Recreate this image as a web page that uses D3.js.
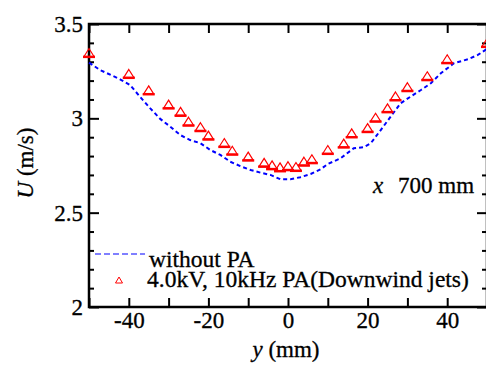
<!DOCTYPE html>
<html lang="en">
<head>
    <meta charset="UTF-8">
    <title>U profile</title>
    <script src="https://cdn.jsdelivr.net/npm/d3@7"></script>
    <style>
        body { margin: 0; background: #fff; }
        svg text { font-family: "Liberation Serif", "Times New Roman", Times, serif; fill: #000; stroke: #000; stroke-width: 0.3px; }
    </style>
</head>
<body>
    <svg width="486" height="365" id="mainsvg"></svg>
    <script>
        // without PA (dashed line)
        const baseY = [-50, -47.2, -42.2, -39.7, -37.2, -34.6, -32.1, -29.6, -27.1, -24.6, -22, -19.5, -17, -14.5, -12, -9.4, -6.9, -4.4, -1.9, 0.6, 3.1, 5.7, 8.2, 10, 13.2, 16.5, 19, 20.8, 23.3, 25.8, 28.3, 30.8, 33.4, 35.9, 38.4, 41.7, 45.2, 47.7, 50]
        const baseU = [3.295, 3.256, 3.207, 3.177, 3.115, 3.053, 2.997, 2.956, 2.912, 2.885, 2.868, 2.832, 2.806, 2.770, 2.747, 2.726, 2.712, 2.700, 2.677, 2.677, 2.688, 2.705, 2.730, 2.758, 2.788, 2.841, 2.847, 2.868, 2.938, 3.009, 3.080, 3.115, 3.150, 3.186, 3.239, 3.292, 3.313, 3.336, 3.368]

        // 4.0kV, 10kHz PA (triangles)
        const paY = [-50, -40, -35, -30, -27, -25, -22, -20, -16, -14, -10, -6, -4, -2, 0, 2, 4, 6, 10, 14, 16, 20, 22, 25, 27, 30, 35, 40, 50]
        const paU = [3.346, 3.235, 3.148, 3.073, 3.034, 2.982, 2.953, 2.908, 2.869, 2.828, 2.797, 2.764, 2.751, 2.740, 2.746, 2.742, 2.770, 2.783, 2.832, 2.866, 2.920, 2.948, 3.003, 3.053, 3.116, 3.165, 3.223, 3.313, 3.399]

        const xTicks = [-50, -40, -30, -20, -10, 0, 10, 20, 30, 40, 50]
        const xLabels = [-40, -20, 0, 20, 40]
        const yTicks = [2, 2.5, 3, 3.5]
        const yMinor = [2.1, 2.2, 2.3, 2.4, 2.6, 2.7, 2.8, 2.9, 3.1, 3.2, 3.3, 3.4]
        const legendNames = ['without PA', '4.0kV, 10kHz PA(Downwind jets)']

        const svg = d3.select('#mainsvg')
        const m = {left: 89, right: 487, top: 24, bottom: 307}
        const serif = '"Liberation Serif", "Times New Roman", Times, serif'

        const xScale = d3.scaleLinear().domain([-50, 50]).range([m.left, m.right])
        const yScale = d3.scaleLinear().domain([2, 3.5]).range([m.bottom, m.top])

        const fmtX = d => xLabels.includes(d) ? String(d) : ''

        // bottom axis with labels
        svg.append('g').attr('transform', `translate(0,${m.bottom})`)
            .call(d3.axisBottom(xScale).tickValues(xTicks).tickSizeInner(-9).tickSizeOuter(0).tickPadding(5).tickFormat(fmtX))
        // top axis
        svg.append('g').attr('transform', `translate(0,${m.top})`)
            .call(d3.axisTop(xScale).tickValues(xTicks).tickSizeInner(-9).tickSizeOuter(0).tickFormat(''))
        // left axis
        svg.append('g').attr('transform', `translate(${m.left},0)`)
            .call(d3.axisLeft(yScale).tickValues(yTicks).tickSizeInner(-10).tickSizeOuter(0).tickPadding(6).tickFormat(d3.format('')))
        svg.append('g').attr('transform', `translate(${m.left},0)`)
            .call(d3.axisLeft(yScale).tickValues(yMinor).tickSizeInner(-5).tickSizeOuter(0).tickFormat(''))
        // right axis
        svg.append('g').attr('transform', `translate(${m.right},0)`)
            .call(d3.axisRight(yScale).tickValues(yTicks).tickSizeInner(-10).tickSizeOuter(0).tickFormat(''))
        svg.append('g').attr('transform', `translate(${m.right},0)`)
            .call(d3.axisRight(yScale).tickValues(yMinor).tickSizeInner(-5).tickSizeOuter(0).tickFormat(''))

        svg.selectAll('g').attr('font-family', serif)
        svg.selectAll('.domain').remove()
        svg.selectAll('.tick line').attr('stroke', '#000').attr('stroke-width', 2)
        svg.selectAll('.tick text').attr('font-size', '23px').attr('font-family', serif)

        // frame
        svg.append('rect')
            .attr('x', m.left).attr('y', m.top)
            .attr('width', m.right - m.left).attr('height', m.bottom - m.top)
            .attr('fill', 'none').attr('stroke', '#000').attr('stroke-width', 2.5)

        // dashed line (without PA)
        const line = d3.line()
            .x((d, i) => xScale(baseY[i]))
            .y(d => yScale(d))
        svg.append('path')
            .datum(baseU)
            .attr('d', line)
            .attr('fill', 'none')
            .attr('stroke', '#0000ff')
            .attr('stroke-width', 2)
            .attr('stroke-dasharray', '4,3')

        // triangles (PA)
        const tri = svg.append('g')
        paU.forEach((u, i) => {
            const cx = xScale(paY[i]), cy = yScale(u)
            tri.append('path')
                .attr('d', `M${cx},${cy - 4.5}L${cx + 5},${cy + 3.5}L${cx - 5},${cy + 3.5}Z`)
                .attr('fill', 'none').attr('stroke', '#ff0000').attr('stroke-width', 1.2)
            tri.append('line')
                .attr('x1', cx - 6).attr('x2', cx + 6)
                .attr('y1', cy + 3.8).attr('y2', cy + 3.8)
                .attr('stroke', '#ff0000').attr('stroke-width', 2.5)
        })

        // legend
        svg.append('line')
            .attr('x1', 95).attr('x2', 145).attr('y1', 254).attr('y2', 254)
            .attr('stroke', '#0000ff').attr('stroke-width', 1.2).attr('stroke-dasharray', '6,3')
        svg.append('text').attr('x', 149).attr('y', 267).attr('font-size', '23.5px')
            .attr('font-family', serif).text(legendNames[0])
        svg.append('path')
            .attr('d', `M119,277L122.5,283L115.5,283Z`)
            .attr('fill', 'none').attr('stroke', '#ff0000').attr('stroke-width', 1)
        svg.append('text').attr('x', 147).attr('y', 287).attr('font-size', '23.5px')
            .attr('font-family', serif).text(legendNames[1])

        // annotation
        const ann = svg.append('text').attr('x', 373).attr('y', 193).attr('font-size', '23px').attr('font-family', serif)
        ann.append('tspan').attr('font-style', 'italic').text('x')
        ann.append('tspan').attr('x', 398).text('700 mm')

        // axis labels
        const xl = svg.append('text').attr('x', 286).attr('y', 357).attr('font-family', serif)
            .attr('text-anchor', 'middle').attr('font-size', '23px')
        xl.append('tspan').attr('font-style', 'italic').text('y')
        xl.append('tspan').text(' (mm)')

        const yl = svg.append('text').attr('font-family', serif)
            .attr('transform', 'translate(33,163) rotate(-90)')
            .attr('text-anchor', 'middle').attr('font-size', '23px')
        yl.append('tspan').attr('font-style', 'italic').text('U')
        yl.append('tspan').text(' (m/s)')
    </script>
</body>
</html>
